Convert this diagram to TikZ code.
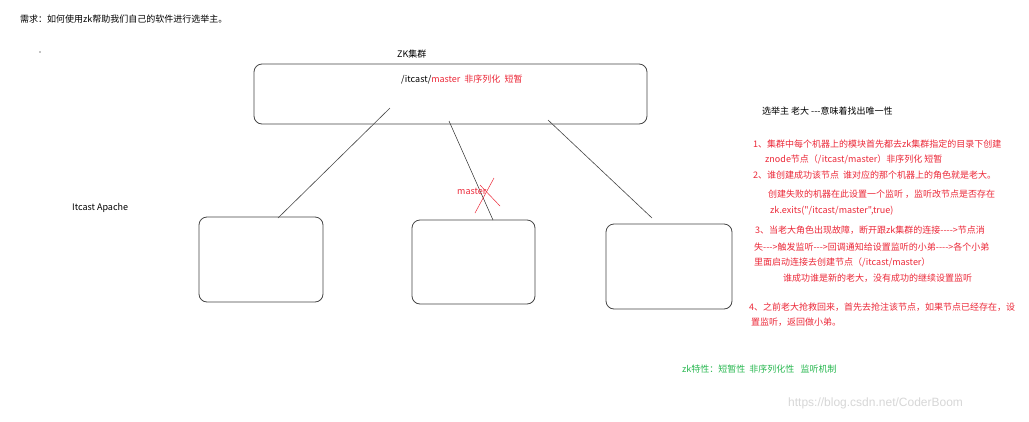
\documentclass[tikz,border=0pt]{standalone}
\usepackage{fontspec}
\setmainfont{Noto Sans CJK SC}[Ligatures=TeXOff]
\definecolor{txtred}{RGB}{236,40,56}
\definecolor{txtgreen}{RGB}{40,184,80}
\definecolor{linegray}{RGB}{70,70,70}
\definecolor{wmgray}{RGB}{215,215,215}
\begin{document}
\begin{tikzpicture}[x=1pt,y=-1pt,
  box/.style={draw=linegray,line width=0.8pt,rounded corners=8pt,inner sep=0pt},
  lbl/.style={anchor=west,inner sep=0pt,font=\fontsize{9}{11}\selectfont},
  redlbl/.style={lbl,text=txtred},
  conn/.style={draw=linegray,line width=0.6pt}]
\useasboundingbox (0,0) rectangle (1029,421);
\fill[white] (0,0) rectangle (1029,421);

% title and dot
\node[lbl] (title) at (20,19) {需求：如何使用zk帮助我们自己的软件进行选举主。};
\fill (40,52) circle (0.7pt);

% cluster
\node[lbl] (zklbl) at (397,54) {ZK集群};
\node[box,minimum width=393pt,minimum height=60pt] (zk) at (450.5,94) {};
\node[lbl] (path) at (401,79) {/itcast/\textcolor{txtred}{master\ \ 非序列化\ \ 短暂}};

% machines
\node[box,minimum width=124pt,minimum height=85pt] (m1) at (261,259.5) {};
\node[box,minimum width=123pt,minimum height=84pt] (m2) at (473.5,262) {};
\node[box,minimum width=126pt,minimum height=85pt] (m3) at (669,266.5) {};
\node[lbl] (apache) at (72,208) {Itcast Apache};

% connectors
\coordinate (s1) at (390,108);
\coordinate (s2) at (449,121);
\coordinate (s3) at (548,120);
\coordinate (e1) at (278,218);
\coordinate (e2) at (493,220);
\coordinate (e3) at (652,218);
\draw[conn] (s1) -- (e1);
\draw[conn] (s2) -- (e2);
\draw[conn] (s3) -- (e3);

% master label and cross
\node[redlbl] (mst) at (457,191) {master};
\coordinate (x1a) at (494,178);
\coordinate (x1b) at (475,213);
\coordinate (x2a) at (480,185);
\coordinate (x2b) at (500,206);
\draw[txtred,line width=0.5pt] (x1a) -- (x1b);
\draw[txtred,line width=0.5pt] (x2a) -- (x2b);

% right notes
\node[lbl] (n0) at (762,111) {选举主 老大 ---意味着找出唯一性};
\node[redlbl] (n1) at (753,144) {1、集群中每个机器上的模块首先都去zk集群指定的目录下创建};
\node[redlbl] (n1b) at (765,159) {znode节点（/itcast/master）非序列化 短暂};
\node[redlbl] (n2) at (753,175) {2、谁创建成功该节点\ \ 谁对应的那个机器上的角色就是老大。};
\node[redlbl] (n2b) at (768,194) {创建失败的机器在此设置一个监听 ，监听改节点是否存在};
\node[redlbl] (n2c) at (770,211) {zk.exits("/itcast/master",true)};
\node[redlbl] (n3) at (755,230) {3、当老大角色出现故障，断开跟zk集群的连接---->节点消};
\node[redlbl] (n3b) at (754,247) {失--->触发监听--->回调通知给设置监听的小弟---->各个小弟};
\node[redlbl] (n3c) at (754,262) {里面启动连接去创建节点（/itcast/master）};
\node[redlbl] (n3d) at (783,278) {谁成功谁是新的老大，没有成功的继续设置监听};
\node[redlbl] (n4) at (749,307) {4、之前老大抢救回来，首先去抢注该节点，如果节点已经存在，设};
\node[redlbl] (n4b) at (751,322) {置监听，返回做小弟。};

\node[lbl,text=txtgreen] (feat) at (682,369) {zk特性：短暂性\ \ 非序列化性\ \ \ 监听机制};
\node[lbl,text=wmgray,font=\fontsize{12}{14}\selectfont\fontspec{Liberation Sans}] (wm) at (788,403) {https://blog.csdn.net/CoderBoom};
\end{tikzpicture}
\end{document}
